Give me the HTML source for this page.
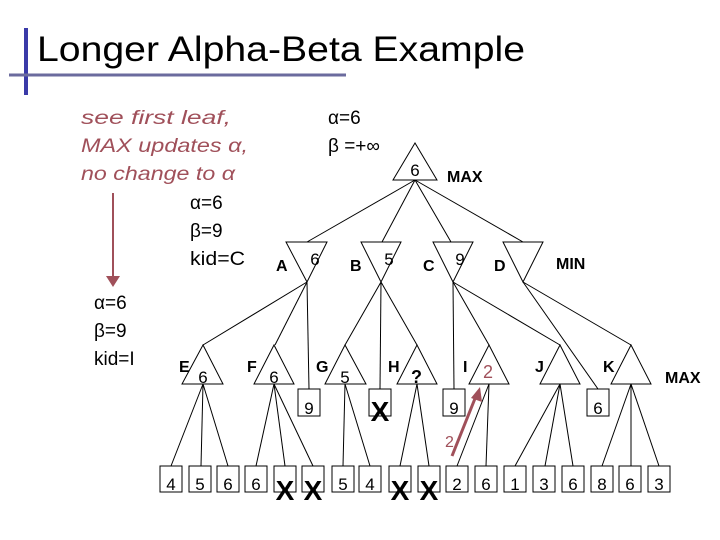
<!DOCTYPE html>
<html><head><meta charset="utf-8"><style>
body{margin:0;background:#fff;}
svg{display:block;font-family:"Liberation Sans",sans-serif;}
</style></head><body>
<svg width="720" height="540" viewBox="0 0 720 540">
<rect width="720" height="540" fill="#fff"/>
<line x1="26" y1="28" x2="26" y2="95" stroke="#3a3aa8" stroke-width="4"/>
<line x1="9" y1="75" x2="346" y2="75" stroke="#6b6b9e" stroke-width="3"/>
<text x="37" y="61" font-size="35" textLength="488" lengthAdjust="spacingAndGlyphs">Longer Alpha-Beta Example</text>

<g fill="#a0505a" font-size="19" font-style="italic">
<text x="81" y="124" textLength="150" lengthAdjust="spacingAndGlyphs">see first leaf,</text>
<text x="81" y="152" textLength="167" lengthAdjust="spacingAndGlyphs">MAX updates α,</text>
<text x="81" y="180" textLength="154" lengthAdjust="spacingAndGlyphs">no change to α</text>
</g>
<line x1="113" y1="193" x2="113" y2="278" stroke="#a0505a" stroke-width="2"/>
<polygon points="106,276 120,276 113,287" fill="#a0505a"/>
<g font-size="19">
<text x="190" y="209">α=6</text><text x="190" y="237">β=9</text><text x="190" y="265" textLength="55" lengthAdjust="spacingAndGlyphs">kid=C</text>
<text x="94" y="309">α=6</text><text x="94" y="337">β=9</text><text x="94" y="365">kid=I</text>
<text x="328" y="124">α=6</text><text x="328" y="152">β =+∞</text>
</g>

<g stroke="#000" stroke-width="1" fill="none">
<polygon points="415,143 393,180 437,180" fill="#fff"/>
<line x1="415" y1="180" x2="307" y2="242"/><line x1="415" y1="180" x2="382" y2="242"/>
<line x1="415" y1="180" x2="451" y2="242"/><line x1="415" y1="180" x2="523" y2="242"/>
<polygon points="286,242 327,242 307,282" fill="#fff"/>
<polygon points="361,242 401,242 381,282" fill="#fff"/>
<polygon points="433,242 473,242 453,282" fill="#fff"/>
<polygon points="503,242 543,242 523,282" fill="#fff"/>
<line x1="307" y1="282" x2="203" y2="345"/><line x1="307" y1="282" x2="275" y2="345"/><line x1="307" y1="282" x2="309" y2="389"/>
<line x1="381" y1="282" x2="345" y2="345"/><line x1="381" y1="282" x2="380" y2="389"/><line x1="381" y1="282" x2="417" y2="345"/>
<line x1="453" y1="282" x2="454" y2="389"/><line x1="453" y1="282" x2="489" y2="345"/><line x1="453" y1="282" x2="560" y2="345"/>
<line x1="523" y1="282" x2="598" y2="389"/><line x1="523" y1="282" x2="631" y2="345"/>
<polygon points="203,345 182,384 223,384" fill="#fff"/>
<polygon points="274,345 254,384 294,384" fill="#fff"/>
<polygon points="345,345 325,384 366,384" fill="#fff"/>
<polygon points="417,345 397,384 437,384" fill="#fff"/>
<polygon points="489,345 469,384 509,384" fill="#fff"/>
<polygon points="560,345 540,384 580,384" fill="#fff"/>
<polygon points="631,345 611,384 651,384" fill="#fff"/>
<line x1="203" y1="384" x2="171" y2="466"/><line x1="203" y1="384" x2="201" y2="466"/><line x1="203" y1="384" x2="228" y2="466"/>
<line x1="274" y1="384" x2="256" y2="466"/><line x1="274" y1="384" x2="285" y2="466"/><line x1="274" y1="384" x2="313" y2="466"/>
<line x1="345" y1="384" x2="343" y2="466"/><line x1="345" y1="384" x2="370" y2="466"/>
<line x1="417" y1="384" x2="400" y2="466"/><line x1="417" y1="384" x2="429" y2="466"/>
<line x1="489" y1="384" x2="457" y2="466"/><line x1="489" y1="384" x2="486" y2="466"/>
<line x1="560" y1="384" x2="515" y2="466"/><line x1="560" y1="384" x2="545" y2="466"/><line x1="560" y1="384" x2="573" y2="466"/>
<line x1="631" y1="384" x2="602" y2="466"/><line x1="631" y1="384" x2="631" y2="466"/><line x1="631" y1="384" x2="659" y2="466"/>
<rect x="298" y="389" width="22" height="27" fill="#fff"/>
<rect x="369" y="389" width="22" height="27" fill="#fff"/>
<rect x="443" y="389" width="22" height="27" fill="#fff"/>
<rect x="587" y="389" width="22" height="27" fill="#fff"/>
<rect x="160" y="466" width="22" height="26" fill="#fff"/><rect x="189" y="466" width="22" height="26" fill="#fff"/>
<rect x="217" y="466" width="22" height="26" fill="#fff"/><rect x="245" y="466" width="22" height="26" fill="#fff"/>
<rect x="274" y="466" width="22" height="26" fill="#fff"/><rect x="302" y="466" width="22" height="26" fill="#fff"/>
<rect x="332" y="466" width="22" height="26" fill="#fff"/><rect x="359" y="466" width="22" height="26" fill="#fff"/>
<rect x="389" y="466" width="22" height="26" fill="#fff"/><rect x="418" y="466" width="22" height="26" fill="#fff"/>
<rect x="446" y="466" width="22" height="26" fill="#fff"/><rect x="475" y="466" width="22" height="26" fill="#fff"/>
<rect x="504" y="466" width="22" height="26" fill="#fff"/><rect x="533" y="466" width="22" height="26" fill="#fff"/>
<rect x="562" y="466" width="22" height="26" fill="#fff"/><rect x="591" y="466" width="22" height="26" fill="#fff"/>
<rect x="619" y="466" width="22" height="26" fill="#fff"/><rect x="648" y="466" width="22" height="26" fill="#fff"/>
</g>

<g font-size="17" text-anchor="middle">
<text x="415" y="176">6</text>
<text x="315" y="265">6</text><text x="389" y="265">5</text><text x="460" y="265">9</text>
<text x="203" y="383">6</text><text x="274" y="383">6</text><text x="345" y="383">5</text>
<text x="309" y="414">9</text><text x="454" y="414">9</text><text x="598" y="414">6</text>
<text x="171" y="490">4</text><text x="200" y="490">5</text><text x="228" y="490">6</text><text x="256" y="490">6</text>
<text x="343" y="490">5</text><text x="370" y="490">4</text>
<text x="457" y="490">2</text><text x="486" y="490">6</text><text x="515" y="490">1</text><text x="544" y="490">3</text>
<text x="573" y="490">6</text><text x="602" y="490">8</text><text x="630" y="490">6</text><text x="659" y="490">3</text>
</g>
<g font-size="28" font-weight="bold" text-anchor="middle">
<text x="380" y="421">X</text>
<text x="285" y="500">X</text><text x="313" y="500">X</text>
<text x="400" y="500">X</text><text x="429" y="500">X</text>
</g>
<g font-size="16" font-weight="bold">
<text x="447" y="182">MAX</text>
<text x="556" y="269">MIN</text>
<text x="665" y="383">MAX</text>
<text x="276" y="271">A</text><text x="350" y="271">B</text><text x="423" y="271">C</text><text x="494" y="271">D</text>
<text x="179" y="372">E</text><text x="247" y="372">F</text><text x="316" y="372">G</text><text x="388" y="372">H</text>
<text x="463" y="372">I</text><text x="535" y="372">J</text><text x="603" y="372">K</text>
<text x="411" y="383" font-size="18">?</text>
</g>
<text x="483" y="378" font-size="18" fill="#a0505a">2</text>
<text x="445" y="447" font-size="16" fill="#a0505a">2</text>
<line x1="452" y1="456" x2="476" y2="396" stroke="#a0505a" stroke-width="3"/>
<polygon points="471,398 482,402 480,387" fill="#a0505a"/>
</svg>
</body></html>
